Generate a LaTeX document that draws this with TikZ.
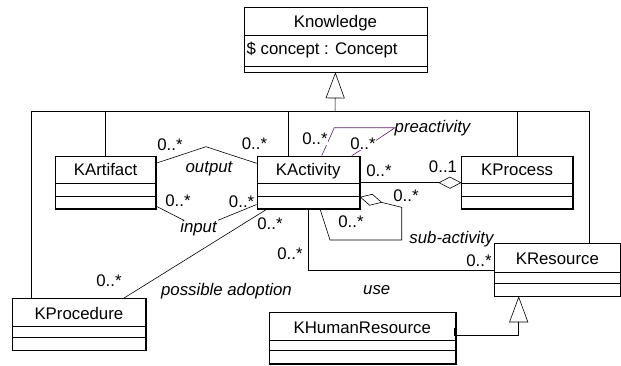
\documentclass[tikz,border=0pt]{standalone}
\usepackage{fontspec}
\setmainfont{Liberation Sans}
\usetikzlibrary{arrows.meta}
\definecolor{preac}{RGB}{96,32,110}
\newcommand\umlclass[9]{%
  \node[cls, minimum width=#4pt, minimum height=#5pt] (#1) at (#2,#3) {};
  \node[title] (#1T) at (#1.north |- 0,#6) {#9};
  \draw[conn] (#1.west |- 0,#7) -- (#1.east |- 0,#7);
  \draw[conn] (#1.west |- 0,#8) -- (#1.east |- 0,#8);
  \draw[line width=1.4pt] (#1.north east) -- (#1.south east) -- (#1.south west);
}
\begin{document}
\begin{tikzpicture}[x=1pt,y=-1pt,
  cls/.style={draw, line width=0.6pt, inner sep=0pt, anchor=north west, fill=white},
  title/.style={font=\fontsize{16.8}{20}\selectfont, inner sep=0pt, text height=12pt, text depth=0pt},
  mult/.style={font=\fontsize{16.8}{20}\selectfont, inner sep=0pt, text height=12pt, text depth=0pt},
  multw/.style={mult, fill=white, inner sep=0.8pt},
  role/.style={font=\fontsize{16.8}{20}\selectfont\itshape, inner sep=0pt, text height=12pt, text depth=0pt},
  conn/.style={line width=0.6pt},
  gen/.style={conn, -{Triangle[open, length=26pt, width=19pt]}},
  agg/.style={conn, -{Diamond[open, length=23pt, width=12pt]}}
]
\useasboundingbox (0,0) rectangle (621,365);

% classes
\umlclass{know}{243.6}{6.7}{183}{65}{21}{35}{66.7}{Knowledge}
\node[title, anchor=west] (knowA) at (246.5,48.5) {\$ concept : Concept};
\umlclass{kart}{55.4}{155.7}{99.8}{52.6}{169.5}{183.3}{196}{KArtifact}
\umlclass{kact}{256.6}{155.7}{102.6}{52.6}{169.5}{183}{196}{KActivity}
\umlclass{kpcs}{461.4}{155.7}{110.9}{52.6}{169.5}{183}{196}{KProcess}
\umlclass{kres}{494.3}{243.3}{125.5}{52.4}{258.5}{272.3}{283.3}{KResource}
\umlclass{kpcd}{11.9}{298.3}{133.4}{51.7}{313.5}{326.7}{337.3}{KProcedure}
\umlclass{khr}{268.5}{311.7}{186.9}{51.6}{327}{340}{350}{KHumanResource}

% generalization to Knowledge
\coordinate (busL) at (31.7,111);
\coordinate (busR) at (589.3,111);
\coordinate (busM) at (335.1,111);
\coordinate (actDrop) at (288,111);
\draw[gen] (busM) -- (know.south);
\draw[conn] (kpcd.north -| busL) |- (busR) -- (kres.north -| busR);
\draw[conn] (kart.north) -- (kart.north |- busL);
\draw[conn] (kact.north -| actDrop) -- (actDrop);
\draw[conn] (kpcs.north) -- (kpcs.north |- busL);

% generalization KHumanResource -> KResource
\coordinate (hrBend) at (518.7,335);
\draw[gen] (khr.east |- 0,328.3) ++(-1.4,0) -- ++(0,6.7) -- (hrBend) -- (kres.south -| hrBend);

% output
\coordinate (outV) at (206,146.7);
\draw[conn] (kart.east |- 0,163.3) -- (outV) -- (kact.west |- 0,163.3);
% input
\coordinate (inV) at (199,228);
\draw[conn] (kart.east |- 0,206) -- (inV) -- (kact.west |- 0,204.5);
% possible adoption
\draw[conn] (kpcd.north -| 123.6,0) -- (kact.south -| 267.3,0);
% use
\draw[conn] (kact.south) |- (kres.west |- 0,270.5);
% sub-activity
\draw[agg] (kact.south -| 320,0) -- (330,240) -- (401.7,240) -- (401.7,207.3) -- (kact.east |- 0,197);
% KActivity - KProcess
\draw[agg] (kact.east |- 0,182.7) -- (kpcs.west |- 0,182.7);
% preactivity
\draw[conn, preac] (kact.north -| 321.7,0) -- (334.3,127.7) -- (395,127.7) -- (376.7,140) -- (kact.north -| 351.7,0);

% role labels
\node[role] (lOut) at (209,166.7) {output};
\node[role, fill=white, inner sep=1pt] (lIn) at (198.5,226.5) {input};
\node[role] (lAdopt) at (226.5,289.3) {possible adoption};
\node[role] (lUse) at (376.7,288) {use};
\node[role] (lSub) at (451.5,237.5) {sub-activity};
\node[role, anchor=west] (lPre) at (394.5,126.7) {preactivity};

% multiplicities
\node[mult] (m1) at (170,144) {0..*};
\node[mult] (m2) at (254.5,143.3) {0..*};
\node[mult] (m3) at (178,200) {0..*};
\node[mult] (m4) at (241.6,201) {0..*};
\node[mult] (m5) at (109,280) {0..*};
\node[mult] (m6) at (270,223.3) {0..*};
\node[mult] (m7) at (290,253.3) {0..*};
\node[mult] (m8) at (479,260) {0..*};
\node[mult] (m9) at (406,195) {0..*};
\node[mult] (m10) at (351,221.7) {0..*};
\node[mult] (m11) at (379,170.5) {0..*};
\node[mult] (m12) at (443,166) {0..1};
\node[multw] (m13) at (315,138.5) {0..*};
\node[multw] (m14) at (363,143.5) {0..*};
\end{tikzpicture}
\end{document}
